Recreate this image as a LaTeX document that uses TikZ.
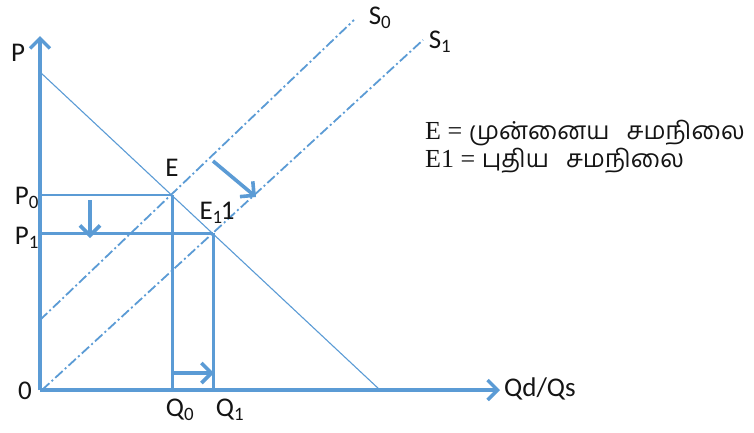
\documentclass[tikz,border=0pt]{standalone}
\usepackage{fontspec}
\setmainfont{Liberation Serif}
\newfontfamily\labfont{Carlito}
\newfontfamily\tamilfont[Script=Tamil,Scale=0.95]{Hind Madurai}
\usetikzlibrary{arrows.meta}
\definecolor{ax}{RGB}{91,155,213}
\definecolor{txt}{RGB}{20,20,20}
\begin{document}
\begin{tikzpicture}[x=1pt,y=-1pt,
  axisline/.style={draw=ax,line width=3.8pt,-{Straight Barb[length=10pt,width=20pt,line width=3.4pt]}},
  guide/.style={draw=ax,line width=3pt},
  thinguide/.style={draw=ax,line width=2pt},
  demand/.style={draw=ax,line width=1.1pt},
  supply/.style={draw=ax,line width=1.8pt,dash pattern=on 10pt off 3pt on 2pt off 3pt},
  shiftarrow/.style={draw=ax,line width=3.6pt,-{Straight Barb[length=10pt,width=20pt,line width=3.6pt]}},
  lab/.style={text=txt,font=\labfont\fontsize{27}{30}\selectfont,inner sep=0pt},
  legend/.style={text=txt,font=\fontsize{26}{30}\selectfont,anchor=west,inner sep=0pt}]
\useasboundingbox (0,0) rectangle (754,432);
% points
\coordinate (O) at (40,390);
\coordinate (Ytop) at (40,36);
\coordinate (Xend) at (500,390);
\coordinate (D1) at (40,72);
\coordinate (D2) at (380,390);
\coordinate (E) at (172,195);
\coordinate (E1) at (213,233);
\coordinate (S0a) at (40,320);
\coordinate (S0b) at (354,20);
\coordinate (S1a) at (42,390);
\coordinate (S1b) at (423,40);
\coordinate (P0y) at (40,195);
\coordinate (P1y) at (40,233);
\coordinate (Q0x) at (172,390);
\coordinate (Q1x) at (213,390);
\coordinate (dA) at (90,200);
\coordinate (dB) at (90,238);
\coordinate (rA) at (172,373);
\coordinate (rB) at (214,373);
\coordinate (sA) at (213,161);
\coordinate (sB) at (256,197);
% lines
\draw[demand] (D1) -- (D2);
\draw[supply] (S0a) -- (S0b);
\draw[supply] (S1a) -- (S1b);
\draw[thinguide] (P0y) -- (E);
\draw[guide] (P1y) -- (E1);
\draw[guide] (E) -- (Q0x);
\draw[guide] (E1) -- (Q1x);
\draw[axisline] (O) -- (Ytop);
\draw[axisline] (O) -- (Xend);
\draw[shiftarrow] (dA) -- (dB);
\draw[shiftarrow] (rA) -- (rB);
\draw[shiftarrow] (sA) -- (sB);
% labels
\node[lab] (Plab) at (18,53) {P};
\node[lab] (P0lab) at (27,198) {P\textsubscript{0}};
\node[lab] (P1lab) at (27,238) {P\textsubscript{1}};
\node[lab] (Olab) at (25,391) {0};
\node[lab] (Q0lab) at (180,410) {Q\textsubscript{0}};
\node[lab] (Q1lab) at (230,410) {Q\textsubscript{1}};
\node[lab] (Elab) at (172,168) {E};
\node[lab] (E1lab) at (217,213) {E\textsubscript{1}\kern-2pt1};
\node[lab] (S0lab) at (380,18) {S\textsubscript{0}};
\node[lab] (S1lab) at (440,42) {S\textsubscript{1}};
\node[lab,anchor=west] (Xlab) at (504,389) {Qd/Qs};
\node[legend] (L1) at (425,133) {E = {\tamilfont முன்னைய\hspace{11pt} சமநிலை}};
\node[legend] (L2) at (425,161) {E1 = {\tamilfont புதிய\hspace{11pt} சமநிலை}};
\end{tikzpicture}
\end{document}
